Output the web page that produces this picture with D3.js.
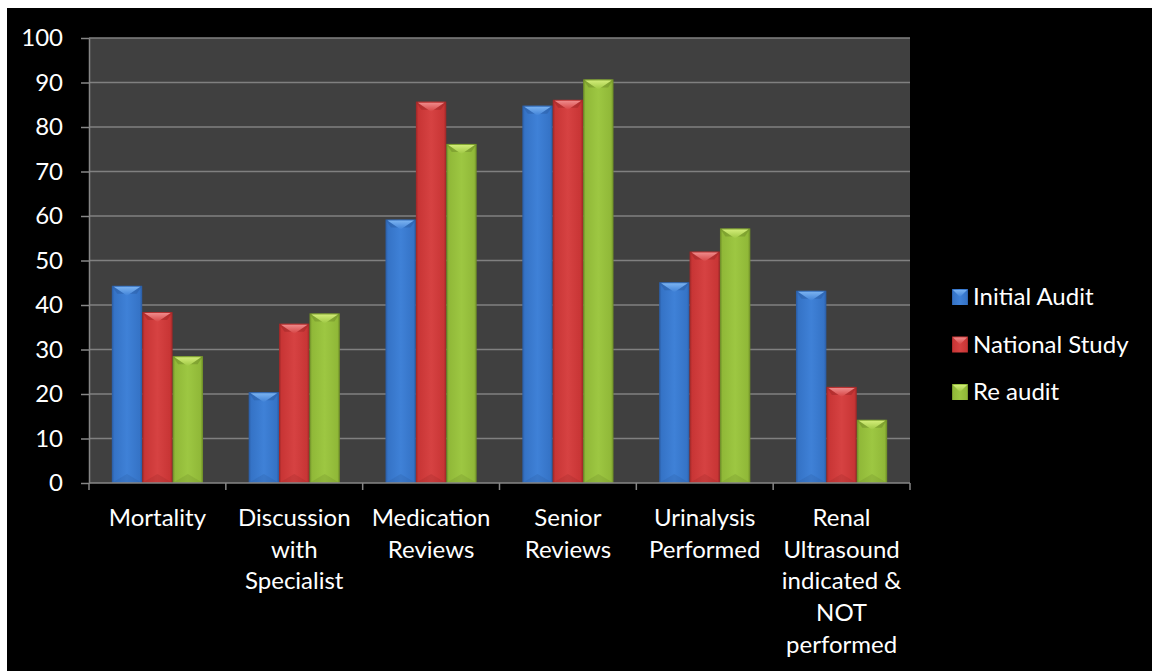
<!DOCTYPE html>
<html>
<head>
<meta charset="utf-8">
<script src="https://cdn.jsdelivr.net/npm/d3@7"></script>
<style>
  html, body { margin: 0; padding: 0; background: #ffffff; }
  svg { display: block; }
</style>
</head>
<body>
<svg id="chart" width="1152" height="671"></svg>
<script>
const categories = [
  ["Mortality"],
  ["Discussion", "with", "Specialist"],
  ["Medication", "Reviews"],
  ["Senior", "Reviews"],
  ["Urinalysis", "Performed"],
  ["Renal", "Ultrasound", "indicated &", "NOT", "performed"]
];
const seriesNames = ["Initial Audit", "National Study", "Re audit"];
const initialAudit = [44.3, 20.4, 59.2, 84.8, 45.1, 43.2];
const nationalStudy = [38.4, 35.8, 85.7, 86.1, 52.0, 21.6];
const reAudit = [28.5, 38.1, 76.2, 90.7, 57.2, 14.2];
const yTicks = [0, 10, 20, 30, 40, 50, 60, 70, 80, 90, 100];

const seriesValues = [initialAudit, nationalStudy, reAudit];
const palette = [
  { dark: "#2a5aa0", mid: "#3573c6", light: "#3f81d7", top: "#7ab2f0" },
  { dark: "#9a2626", mid: "#c83535", light: "#d64242", top: "#ee8a8a" },
  { dark: "#6a8826", mid: "#90b838", light: "#9dc742", top: "#d2ec78" }
];

const svg = d3.select("#chart");
const font = "Lato, 'Open Sans', sans-serif";
const fontSize = 24;

// white page + black chart area
svg.append("rect").attr("x", 0).attr("y", 0).attr("width", 1152).attr("height", 671).attr("fill", "#ffffff");
svg.append("rect").attr("x", 7).attr("y", 8).attr("width", 1145).attr("height", 663).attr("fill", "#000000");

const plot = { left: 89, right: 910, top: 38, bottom: 483 };

const x = d3.scaleBand().domain(d3.range(categories.length)).range([plot.left, plot.right]).paddingInner(0).paddingOuter(0);
const y = d3.scaleLinear().domain([0, 100]).range([plot.bottom, plot.top]);
const barW = x.bandwidth() / 4.5;
const xs = d3.scaleBand().domain(d3.range(seriesNames.length)).range([0.75 * barW, 3.75 * barW]).padding(0);

// gradients
const defs = svg.append("defs");
palette.forEach((p, i) => {
  const g = defs.append("linearGradient").attr("id", "grad" + i).attr("x1", 0).attr("x2", 1).attr("y1", 0).attr("y2", 0);
  g.append("stop").attr("offset", "0%").attr("stop-color", p.dark);
  g.append("stop").attr("offset", "8%").attr("stop-color", p.mid);
  g.append("stop").attr("offset", "50%").attr("stop-color", p.light);
  g.append("stop").attr("offset", "92%").attr("stop-color", p.mid);
  g.append("stop").attr("offset", "100%").attr("stop-color", p.dark);
  const t = defs.append("linearGradient").attr("id", "top" + i).attr("x1", 0).attr("x2", 0).attr("y1", 0).attr("y2", 1);
  t.append("stop").attr("offset", "0%").attr("stop-color", p.top);
  t.append("stop").attr("offset", "100%").attr("stop-color", p.light);
});

// plot background
svg.append("rect").attr("x", plot.left).attr("y", plot.top)
  .attr("width", plot.right - plot.left).attr("height", plot.bottom - plot.top).attr("fill", "#404040");

// gridlines
svg.append("g").selectAll("line").data(yTicks.filter(d => d > 0)).join("line")
  .attr("x1", plot.left).attr("x2", plot.right)
  .attr("y1", d => y(d)).attr("y2", d => y(d))
  .attr("stroke", "#808080").attr("stroke-width", 1.5);

// y axis
const yAxis = svg.append("g").attr("transform", `translate(${plot.left},0)`)
  .call(d3.axisLeft(y).tickValues(yTicks).tickSize(8).tickPadding(18).tickSizeOuter(0));
yAxis.select(".domain").attr("stroke", "#868686").attr("stroke-width", 1.5);
yAxis.selectAll(".tick line").attr("stroke", "#868686").attr("stroke-width", 1.5);
yAxis.selectAll(".tick text").attr("fill", "#ffffff").attr("font-family", font).attr("font-size", fontSize);

// bars
const groups = svg.append("g").selectAll("g").data(categories).join("g")
  .attr("transform", (d, i) => `translate(${x(i)},0)`);

seriesValues.forEach((vals, s) => {
  const bx = xs(s);
  const w = xs.bandwidth();
  groups.append("rect")
    .attr("x", bx).attr("y", (d, i) => y(vals[i]))
    .attr("width", w).attr("height", (d, i) => plot.bottom - y(vals[i]))
    .attr("fill", `url(#grad${s})`);
  // top bevel
  groups.append("path")
    .attr("d", (d, i) => {
      const t = y(vals[i]);
      return `M${bx},${t}L${bx + w},${t}L${bx + w * 0.82},${t + 8}L${bx + w * 0.18},${t + 8}Z`;
    })
    .attr("fill", palette[s].dark).attr("opacity", 0.45);
  groups.append("path")
    .attr("d", (d, i) => {
      const t = y(vals[i]);
      return `M${bx + 2},${t + 1}L${bx + w - 2},${t + 1}L${bx + w / 2},${t + 10}Z`;
    })
    .attr("fill", `url(#top${s})`);
  // bottom bevel (subtle)
  groups.append("path")
    .attr("d", () => {
      const b = plot.bottom;
      return `M${bx},${b}L${bx + w},${b}L${bx + w / 2},${b - 9}Z`;
    })
    .attr("fill", palette[s].dark).attr("opacity", 0.25);
});

// x axis
const xAxis = svg.append("g").attr("transform", `translate(0,${plot.bottom})`);
xAxis.append("line").attr("x1", plot.left).attr("x2", plot.right).attr("y1", 0).attr("y2", 0)
  .attr("stroke", "#868686").attr("stroke-width", 1.5);
xAxis.selectAll("line.tick").data(d3.range(categories.length + 1)).join("line").attr("class", "tick")
  .attr("x1", i => i < categories.length ? x(i) : plot.right)
  .attr("x2", i => i < categories.length ? x(i) : plot.right)
  .attr("y1", 0).attr("y2", 7).attr("stroke", "#868686").attr("stroke-width", 1.5);

const labels = xAxis.selectAll("text").data(categories).join("text")
  .attr("x", (d, i) => x(i) + x.bandwidth() / 2)
  .attr("y", 43)
  .attr("text-anchor", "middle")
  .attr("fill", "#ffffff").attr("font-family", font).attr("font-size", fontSize);
labels.selectAll("tspan").data(d => d).join("tspan")
  .attr("x", function () { return d3.select(this.parentNode).attr("x"); })
  .attr("dy", (d, i) => i === 0 ? 0 : 31.7)
  .text(d => d);

// legend
const legend = svg.append("g");
const items = legend.selectAll("g").data(seriesNames).join("g")
  .attr("transform", (d, i) => `translate(952,${297 + i * 47.5})`);
items.append("rect").attr("x", 0).attr("y", -8).attr("width", 16).attr("height", 16)
  .attr("fill", (d, i) => `url(#grad${i})`);
items.append("path").attr("d", "M1,-7L15,-7L8,0Z").attr("fill", (d, i) => `url(#top${i})`);
items.append("text").attr("x", 21).attr("y", 0).attr("dy", "0.35em")
  .attr("fill", "#ffffff").attr("font-family", font).attr("font-size", fontSize)
  .text(d => d);
</script>
</body>
</html>
